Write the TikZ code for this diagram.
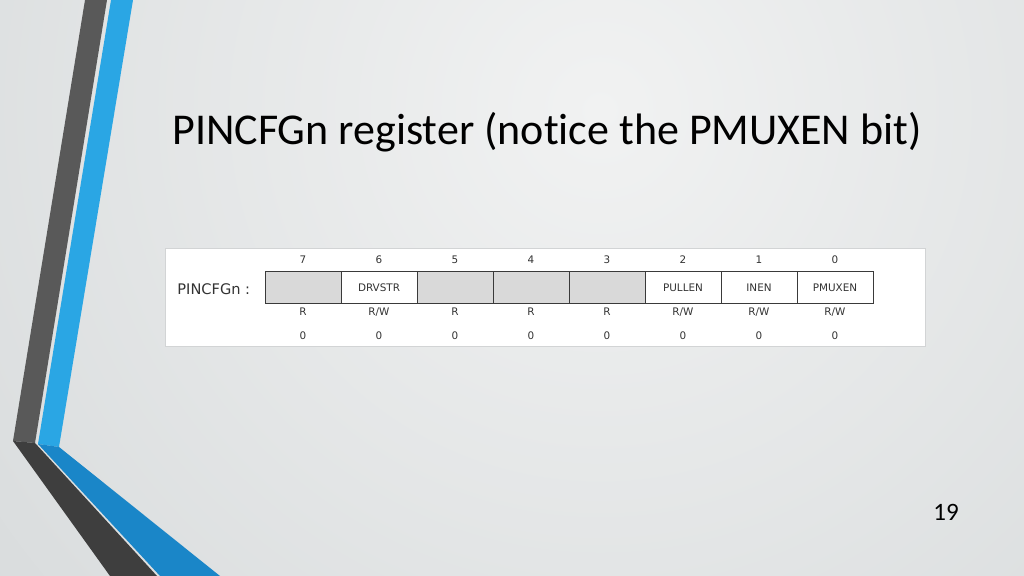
\documentclass[tikz,border=0pt]{standalone}
\usepackage{fontspec}
\setmainfont{Carlito}[Ligatures=NoCommon]
\newfontfamily\regfont{DejaVu Sans}
\usepackage{tikz}
\pgfdeclarelayer{bglayer}
\pgfdeclarelayer{nodelayer}
\pgfdeclarelayer{edgelayer}
\pgfsetlayers{bglayer,edgelayer,nodelayer,main}
\definecolor{slidebg}{HTML}{C4C9CB}
\definecolor{slidelight}{HTML}{F1F2F2}
\definecolor{stripedark}{HTML}{595959}
\definecolor{stripedarker}{HTML}{3E3E3E}
\definecolor{stripeblue}{HTML}{2AA6E4}
\definecolor{stripedeep}{HTML}{1A86C8}
\definecolor{cellline}{HTML}{3A3A3A}
\definecolor{resgray}{HTML}{D9D9D9}
\definecolor{regtext}{HTML}{333333}
\definecolor{panelline}{HTML}{D2D4D5}
\tikzstyle{none}=[inner sep=0pt]
\tikzset{bitcell/.style={draw=cellline, line width=0.5pt, fill=white,
minimum width=38pt, minimum height=16pt, inner sep=0pt,
font=\regfont\fontsize{5.2}{6}\selectfont, text=regtext}}
\tikzset{resbit/.style={bitcell, fill=resgray}}
\tikzset{tiny/.style={inner sep=0pt, font=\regfont\fontsize{5.2}{6}\selectfont, text=regtext}}
\tikzset{title/.style={inner sep=0pt, anchor=base west, font=\fontsize{22}{26}\selectfont}}

\begin{document}
\begin{tikzpicture}[x=0.5pt, y=-0.5pt]
	\useasboundingbox (0, 0) rectangle (1024, 576);
			\begin{pgfonlayer}{bglayer}
				\clip (0, 0) rectangle (1024, 576);
				\fill [slidebg] (0, 0) rectangle (1024, 576);
				\shade [inner color=slidelight, outer color=slidebg] (600, 110) circle (1450);
				% left stripes
				\fill [stripedark] (85, 0) -- (107, 0) -- (35, 443) -- (13, 441) -- cycle;
				\fill [stripedarker] (13, 441) -- (35, 443) -- (157, 576) -- (110, 576) -- cycle;
				\fill [stripeblue] (111, 0) -- (133, 0) -- (59, 447) -- (38, 444) -- cycle;
				\fill [stripedeep] (38, 444) -- (59, 447) -- (220, 576) -- (160, 576) -- cycle;
				\fill [white, draw=panelline, line width=0.5pt] (165, 249) rectangle (925, 347);
			\end{pgfonlayer}
			\begin{pgfonlayer}{nodelayer}
				\node [style=title] (0) at (172, 145) {PINCFGn register (notice the PMUXEN bit)};
				\node [style=none, font=\fontsize{12.5}{14}\selectfont] (1) at (946, 512) {19};
				\node [style=none, font=\regfont\fontsize{7.3}{9}\selectfont, text=regtext, anchor=west] (2) at (177, 289) {PINCFGn :};
				\node [style=resbit] (10) at (303, 288) {};
				\node [style=bitcell] (11) at (379, 288) {DRVSTR};
				\node [style=resbit] (12) at (455, 288) {};
				\node [style=resbit] (13) at (531, 288) {};
				\node [style=resbit] (14) at (607, 288) {};
				\node [style=bitcell] (15) at (683, 288) {PULLEN};
				\node [style=bitcell] (16) at (759, 288) {INEN};
				\node [style=bitcell] (17) at (835, 288) {PMUXEN};
				\node [style=tiny] (20) at (303, 260) {7};
				\node [style=tiny] (21) at (379, 260) {6};
				\node [style=tiny] (22) at (455, 260) {5};
				\node [style=tiny] (23) at (531, 260) {4};
				\node [style=tiny] (24) at (607, 260) {3};
				\node [style=tiny] (25) at (683, 260) {2};
				\node [style=tiny] (26) at (759, 260) {1};
				\node [style=tiny] (27) at (835, 260) {0};
				\node [style=tiny] (30) at (303, 312) {R};
				\node [style=tiny] (31) at (379, 312) {R/W};
				\node [style=tiny] (32) at (455, 312) {R};
				\node [style=tiny] (33) at (531, 312) {R};
				\node [style=tiny] (34) at (607, 312) {R};
				\node [style=tiny] (35) at (683, 312) {R/W};
				\node [style=tiny] (36) at (759, 312) {R/W};
				\node [style=tiny] (37) at (835, 312) {R/W};
				\node [style=tiny] (40) at (303, 336) {0};
				\node [style=tiny] (41) at (379, 336) {0};
				\node [style=tiny] (42) at (455, 336) {0};
				\node [style=tiny] (43) at (531, 336) {0};
				\node [style=tiny] (44) at (607, 336) {0};
				\node [style=tiny] (45) at (683, 336) {0};
				\node [style=tiny] (46) at (759, 336) {0};
				\node [style=tiny] (47) at (835, 336) {0};
			\end{pgfonlayer}
		\end{tikzpicture}
\end{document}
